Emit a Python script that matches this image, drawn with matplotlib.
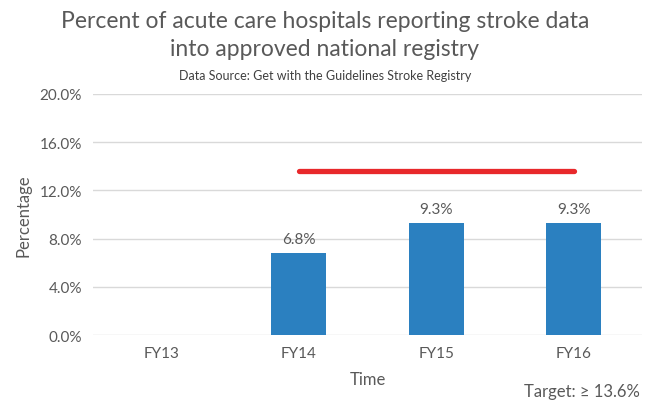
import matplotlib
matplotlib.use("Agg")
import matplotlib.pyplot as plt
from matplotlib.ticker import FuncFormatter

plt.rcParams['font.family'] = ['Lato', 'DejaVu Sans']

categories = ['FY13', 'FY14', 'FY15', 'FY16']
values = [None, 6.8, 9.3, 9.3]
target = 13.6
target_span = ['FY14', 'FY16']
y_ticks = [0, 4, 8, 12, 16, 20]

text_col = '#595959'
bar_col = '#2B80C0'

fig = plt.figure(figsize=(6.5, 4.02), dpi=100)
ax = fig.add_axes([0.143, 0.164, 0.845, 0.6])

x = list(range(len(categories)))
bar_x = [i for i, v in zip(x, values) if v is not None]
bar_v = [v for v in values if v is not None]
ax.bar(bar_x, bar_v, width=0.4, color=bar_col, zorder=3)
for xi, v in zip(bar_x, bar_v):
    ax.text(xi, v + 0.6, f'{v:.1f}%', ha='center', va='bottom', fontsize=11, color=text_col)

# target line
t0 = categories.index(target_span[0])
t1 = categories.index(target_span[1])
ax.plot([t0, t1], [target, target], color='#E8282B', lw=3.8, solid_capstyle='round', zorder=4)

ax.set_xlim(-0.5, len(categories) - 0.5)
ax.set_ylim(0, 20)
ax.set_yticks(y_ticks)
ax.yaxis.set_major_formatter(FuncFormatter(lambda v, p: f'{v:.1f}%'))
ax.set_xticks(x)
ax.set_xticklabels(categories)
ax.tick_params(axis='both', length=0, labelsize=11, labelcolor=text_col, pad=8)
ax.tick_params(axis='x', pad=8)
ax.grid(axis='y', color='#D9D9D9', lw=1, zorder=0)
for s in ax.spines.values():
    s.set_visible(False)

ax.set_xlabel('Time', fontsize=12, color=text_col, labelpad=8)
ax.set_ylabel('Percentage', fontsize=12, color=text_col, labelpad=6)

fig.text(0.5, 0.972, 'Percent of acute care hospitals reporting stroke data\ninto approved national registry',
         ha='center', va='top', fontsize=16.5, color=text_col, linespacing=1.4)
fig.text(0.5, 0.812, 'Data Source: Get with the Guidelines Stroke Registry',
         ha='center', va='center', fontsize=9, color='#404040')
fig.text(0.985, 0.005, 'Target: ≥ 13.6%', ha='right', va='bottom', fontsize=12, color=text_col)

fig.savefig('out.png', dpi=100)
